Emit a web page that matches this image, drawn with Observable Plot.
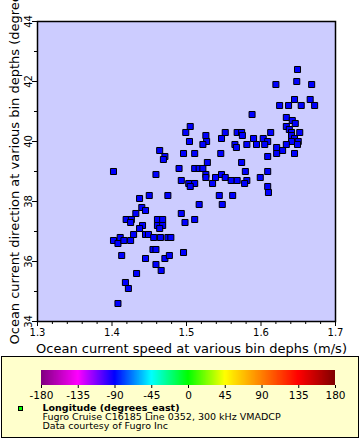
<!DOCTYPE html>
<html>
<head>
<meta charset="utf-8">
<script src="https://cdn.jsdelivr.net/npm/d3@7"></script>
<script src="https://cdn.jsdelivr.net/npm/@observablehq/plot@0.6"></script>
<style>
  body { margin: 0; background: white; font-family: "DejaVu Sans", sans-serif; }
  #wrap { position: relative; width: 360px; height: 440px; overflow: hidden; }
  #legendBox { position: absolute; left: 1px; top: 356px; width: 358px; height: 82px; box-sizing: border-box; border: 1.5px solid #000; background: #ffffcc; }
  #bar { position: absolute; left: 0; top: 356px; }
  #swatch { position: absolute; left: 18px; top: 406px; width: 5px; height: 5px; box-sizing: border-box; border: 1px solid #000; background: #00ff00; }
  .lt { position: absolute; left: 42.5px; font-size: 9.5px; line-height: 9px; height: 9px; white-space: pre; color: #000; }
</style>
</head>
<body>
<div id="wrap">
  <div id="chart"></div>
  <div id="legendBox"></div>
  <div id="bar"></div>
  <div id="swatch"></div>
  <div class="lt" id="l1" style="top:403.2px;font-weight:bold"></div>
  <div class="lt" id="l2" style="top:412.3px"></div>
  <div class="lt" id="l3" style="top:421.4px"></div>
</div>
<script>
// Ocean current speed (m/s)
const speed = [
  1.402, 1.464, 1.471, 1.469, 1.459, 1.437, 1.450, 1.475, 1.440, 1.445,
  1.432, 1.419, 1.426, 1.425, 1.441, 1.437, 1.461, 1.468, 1.461, 1.468,
  1.464, 1.429, 1.445, 1.449, 1.456, 1.465, 1.475, 1.479, 1.402, 1.411,
  1.408, 1.416, 1.425, 1.455, 1.459, 1.413, 1.445, 1.471, 1.477, 1.459,
  1.466, 1.433, 1.418, 1.422, 1.408, 1.493, 1.498, 1.511, 1.517, 1.548,
  1.496,
  1.505, 1.499, 1.504, 1.526, 1.527, 1.522, 1.552, 1.547, 1.568, 1.574,
  1.575, 1.565, 1.567, 1.581, 1.588, 1.496, 1.511, 1.546, 1.528, 1.574,
  1.490, 1.511, 1.517, 1.522, 1.579, 1.526, 1.526, 1.539, 1.547, 1.552,
  1.493, 1.503, 1.511, 1.505, 1.535, 1.560, 1.568, 1.581, 1.578, 1.544,
  1.562,
  1.649, 1.620, 1.648, 1.668, 1.645, 1.666, 1.625, 1.637, 1.654, 1.672,
  1.634, 1.642, 1.646, 1.634, 1.638, 1.613, 1.641, 1.652, 1.590, 1.603,
  1.609, 1.594, 1.605, 1.641, 1.645, 1.641, 1.650, 1.649, 1.634, 1.621,
  1.629, 1.621, 1.645, 1.609, 1.599, 1.609, 1.609, 1.610
];
// Ocean current direction (degrees)
const direction = [
  39.0, 39.7, 39.5, 39.4, 38.9, 38.1, 38.2, 38.2, 37.8, 37.7,
  37.6, 37.4, 37.4, 37.3, 37.2, 37.1, 37.4, 37.4, 37.2, 37.2,
  37.1, 36.9, 36.9, 36.9, 36.8, 36.8, 36.8, 36.8, 36.7, 36.8,
  36.6, 36.7, 36.7, 36.4, 36.4, 36.2, 36.1, 36.1, 36.2, 35.9,
  35.7, 35.6, 35.3, 35.1, 34.6, 37.6, 37.3, 37.4, 37.9, 37.9,
  36.3,
  40.5, 40.3, 40.0, 40.2, 40.0, 39.9, 40.3, 40.1, 40.3, 40.3,
  40.2, 39.9, 39.8, 39.9, 40.9, 39.6, 39.6, 39.6, 39.3, 39.3,
  39.1, 39.1, 39.1, 39.1, 39.0, 38.9, 38.8, 38.8, 38.9, 38.8,
  38.7, 38.6, 38.6, 38.5, 38.6, 38.7, 38.7, 38.7, 38.6, 38.2,
  38.2,
  42.4, 41.9, 42.0, 41.9, 41.4, 41.4, 41.2, 41.2, 41.2, 41.2,
  40.8, 40.7, 40.6, 40.5, 40.4, 40.3, 40.3, 40.3, 40.1, 40.1,
  40.0, 39.9, 39.9, 40.2, 40.1, 40.0, 40.0, 39.9, 39.9, 39.8,
  39.7, 39.6, 39.6, 39.5, 38.8, 39.0, 38.5, 38.3
];

const xTicks = [1.3, 1.4, 1.5, 1.6, 1.7];
const xMinorTicks = [1.32, 1.34, 1.36, 1.38, 1.42, 1.44, 1.46, 1.48, 1.52, 1.54, 1.56, 1.58, 1.62, 1.64, 1.66, 1.68];
const yTicks = [34, 36, 38, 40, 42, 44];
const yMinorTicks = [35, 37, 39, 41, 43];

const xLabel = "Ocean current speed at various bin dephs (m/s)";
const yLabel = "Ocean current direction at various bin depths (degrees";

const colorStops = [-180, -135, -90, -45, 0, 45, 135, 180];
const colorRamp = ["#800080", "#ff00ff", "#0000ff", "#00ffff", "#00ff00", "#ffff00", "#ff0000", "#800000"];
const barTicks = [-180, -135, -90, -45, 0, 45, 90, 135, 180];

const legendTitle = "Longitude (degrees_east)";
const legendLine2 = "Fugro Cruise C16185 Line 0352, 300 kHz VMADCP";
const legendLine3 = "Data courtesy of Fugro Inc";

const data = speed.map((s, i) => ({speed: s, direction: direction[i]}));

const chart = Plot.plot({
  width: 360,
  height: 356,
  marginLeft: 37,
  marginRight: 25,
  marginTop: 21,
  marginBottom: 35,
  style: {fontFamily: "DejaVu Sans, sans-serif", background: "white", color: "black"},
  x: {domain: [1.3, 1.7]},
  y: {domain: [34, 44]},
  marks: [
    Plot.frame({fill: "#ccccff"}),
    Plot.axisX({ticks: xTicks, tickSize: 5, tickPadding: 2, tickFormat: d3.format(".1f"), fontSize: 10, label: null}),
    Plot.axisX({ticks: xMinorTicks, tickSize: 3, tickFormat: () => "", label: null}),
    Plot.axisY({ticks: yTicks, tickSize: 5, tickPadding: 1, tickRotate: -90, textAnchor: "middle", lineAnchor: "bottom", fontSize: 10, label: null}),
    Plot.axisY({ticks: yMinorTicks, tickSize: 3, tickFormat: () => "", label: null}),
    Plot.dot(data, {x: "speed", y: "direction", symbol: "square", r: 3.4, fill: "#0000ff", stroke: "black", strokeWidth: 1}),
    Plot.frame({stroke: "black", strokeWidth: 1.5}),
    Plot.text([xLabel], {text: d => d, frameAnchor: "bottom", dx: 5, dy: 31, lineAnchor: "bottom", fontSize: 13}),
    Plot.text([yLabel], {text: d => d, frameAnchor: "left", dx: -18.7, dy: 173, rotate: -90, textAnchor: "start", lineAnchor: "bottom", fontSize: 13})
  ]
});
document.getElementById("chart").appendChild(chart);

// colour bar for the legend (1-degree slices across the ramp)
const rampSlices = d3.range(-180, 180, 1);
const bar = Plot.plot({
  width: 360,
  height: 50,
  marginLeft: 41,
  marginRight: 25,
  marginTop: 14,
  marginBottom: 21,
  style: {fontFamily: "DejaVu Sans, sans-serif", background: "transparent", color: "black"},
  x: {domain: [-180, 180]},
  color: {type: "linear", domain: colorStops, range: colorRamp, interpolate: "rgb"},
  marks: [
    Plot.rect(rampSlices, {x1: d => d, x2: d => Math.min(180, d + 2), fill: d => d + 0.5}),
    Plot.axisX({ticks: barTicks, tickSize: 3, tickPadding: 3, tickFormat: d => String(d), fontSize: 10.5, label: null})
  ]
});
document.getElementById("bar").appendChild(bar);

document.getElementById("l1").textContent = legendTitle;
document.getElementById("l2").textContent = legendLine2;
document.getElementById("l3").textContent = legendLine3;
</script>
</body>
</html>
